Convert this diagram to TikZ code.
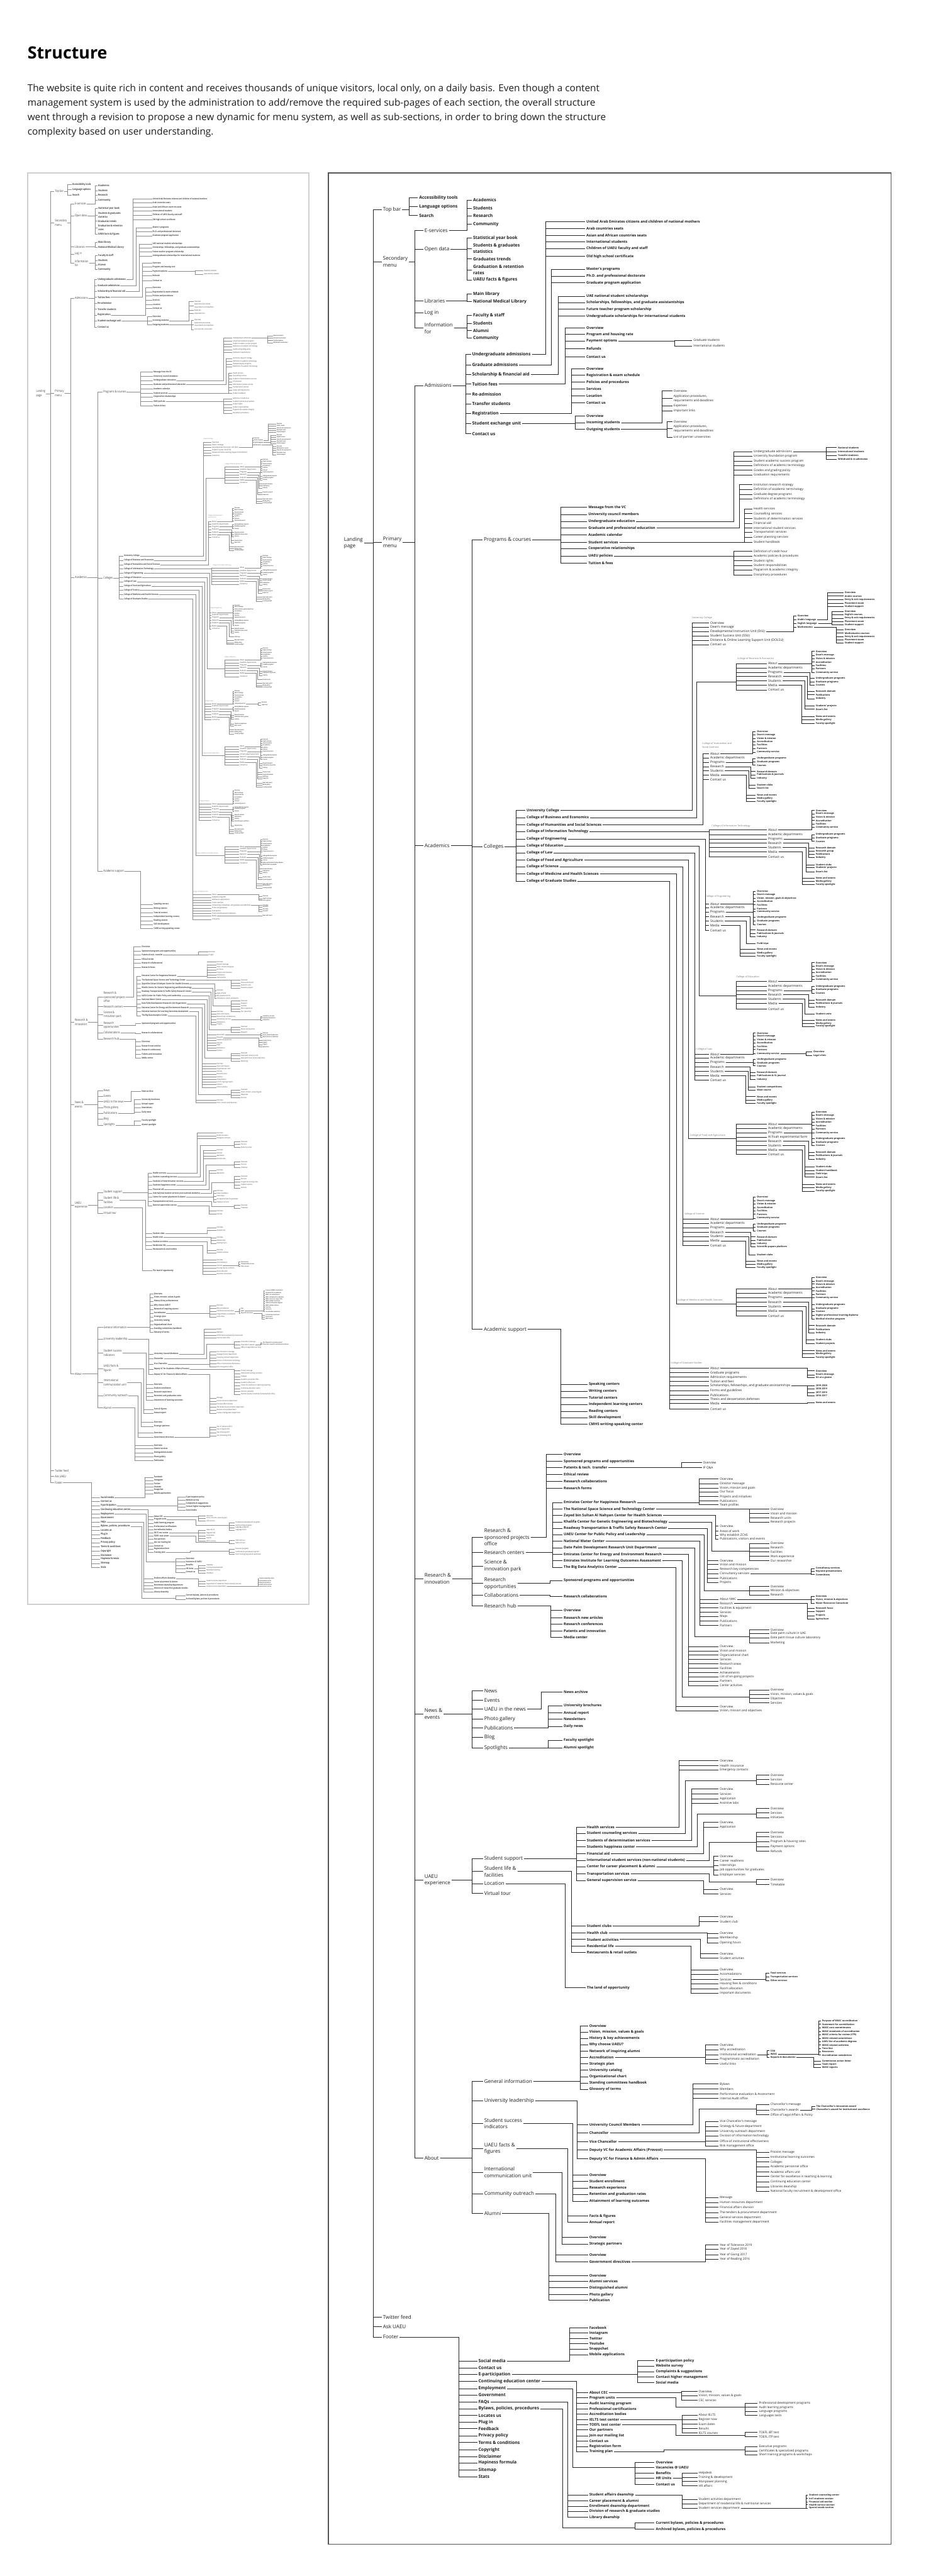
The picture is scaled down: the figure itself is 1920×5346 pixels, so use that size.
\documentclass[tikz,border=0pt]{standalone}
\usepackage{fontspec}
\setmainfont{Open Sans}
\usetikzlibrary{positioning}
\definecolor{SiteInk}{HTML}{1C1C1C}
\definecolor{SiteLine}{HTML}{262626}
\definecolor{SiteFrame}{HTML}{555555}
\definecolor{SiteThumb}{HTML}{D0D0D0}

\tikzset{
  lbl/.style={anchor=west,inner xsep=2.5pt,inner ysep=0.5pt,align=left,text=SiteInk},
  hd/.style={lbl,font=\fontsize{10.5}{14}\selectfont},
  s1/.style={lbl,font=\fontsize{9}{13}\selectfont\bfseries},
  s2/.style={lbl,font=\fontsize{7.5}{10}\selectfont\bfseries},
  s3/.style={lbl,font=\fontsize{6.3}{9.5}\selectfont},
  blk/.style={lbl,font=\fontsize{6.6}{8}\selectfont},
  s4/.style={lbl,font=\fontsize{4.8}{6}\selectfont\bfseries},
  tag/.style={lbl,font=\fontsize{5}{7.5}\selectfont,text=black!55},
  link/.style={draw=SiteLine,line width=1.1pt},
  heading/.style={anchor=base west,inner sep=0pt,font=\fontsize{35}{40}\selectfont\bfseries,text=black},
  intro/.style={anchor=north west,inner sep=0pt,align=left,font=\fontsize{20}{30}\selectfont,text=SiteInk},
  newframe/.style={draw=SiteFrame,line width=2pt},
  oldframe/.style={draw=SiteThumb,line width=2.5pt}
}

% children of #1: name prefix #2, bus at x=#3, labels at x=#4, style #5, list y/text
\newcommand\kids[6]{%
  \foreach \yy/\lab [count=\kk] in {#6}{%
    \node[#5] (#2\kk) at (#4,\yy) {\lab};
    \draw[link] (#1.east) -| (#3,\yy) |- (#2\kk.west);
  }}
% same, with an elbow: down to (#3,#4), then over to the bus at x=#5
\newcommand\kidsj[8]{%
  \foreach \yy/\lab [count=\kk] in {#8}{%
    \node[#7] (#2\kk) at (#6,\yy) {\lab};
    \draw[link] (#1.east) -| (#3,#4) -| (#5,\yy) |- (#2\kk.west);
  }}

\newcommand\sitetree{%
\node[hd] (land) at (711,1127) {Landing\\page};
\kids{land}{m}{774}{792}{hd}{435/Top bar, 543/{Secondary\\menu}, 1125/{Primary\\menu}, 4809/Twitter feed, 4828/Ask UAEU, 4850/Footer}
% top bar, secondary menu
\kids{m1}{tb}{849}{867}{s1}{411/Accessibility tools, 429/Language options, 447/Search}
\kids{m2}{sm}{861}{878}{hd}{478/E-services, 518/Open data, 625/Libraries, 649/Log in, 681/{Information\\for}}
\kids{sm1}{es}{969}{979}{s1}{415/Academics, 432/Students, 448/Research, 465/Community}
\kids{sm2}{od}{969}{979}{s1}{494/Statistical year book, 516/{Students \& graduates\\statistics}, 537/Graduates trends, 560/{Graduation \& retention\\rates}, 581/UAEU facts \& figures}
\kids{sm3}{lb}{969}{979}{s1}{610/Main library, 626/National Medical Library}
\kids{sm5}{inf}{969}{979}{s1}{655/Faculty \& staff, 671/Students, 686/Alumni, 702/Community}
% primary menu
\kids{m3}{pm}{861}{878}{hd}{800/Admissions, 1755/Academics, 3276/{Research \&\\innovation}, 3557/{News \&\\events}, 3902/{UAEU\\experience}, 4478/About}
% admissions
\kids{pm1}{ad}{966}{977}{s1}{736/Undergraduate admissions, 757/Graduate admissions, 777/Scholarship \& financial aid, 797/Tuition fees, 818/Re-admission, 838/Transfer students, 858/Registration, 879/Student exchange unit, 900/Contact us}
\kids{ad1}{ua}{1132}{1214}{s2}{460/United Arab Emirates citizens and children of national mothers, 474/Arab countries seats, 489/Asian and African countries seats, 502/International students, 516/Children of UAEU faculty and staff, 532/Old high school certificate}
\kids{ad2}{ga}{1144}{1214}{s2}{559/Master's programs, 573/Ph.D. and professional doctorate, 587/Graduate program application}
\kids{ad3}{sh}{1158}{1214}{s2}{615/UAE national student scholarships, 628/{Scholarships, fellowships, and graduate assistantships}, 642/Future teacher program scholarship, 656/Undergraduate scholarships for international students}
\kids{ad4}{tf}{1172}{1214}{s2}{681/Overview, 694/Program and housing rate, 708/Payment options, 724/Refunds, 740/Contact us}
\kids{tf3}{po}{1400}{1436}{s3}{706/Graduate students, 718/International students}
\kids{ad7}{rg}{1186}{1214}{s2}{765/Overview, 779/Registration \& exam schedule, 793/Policies and procedures, 807/Services, 822/Location, 836/Contact us}
\kids{ad8}{se}{1193}{1214}{s2}{863/Overview, 877/Incoming students, 891/Outgoing students}
\kids{se2}{inc}{1374}{1395}{s3}{811/Overview, 827/{Application procedures,\\requirements and deadlines}, 842/Expenses, 853/Important links}
\kids{se3}{out}{1384}{1395}{s3}{875/Overview, 890/{Application procedures,\\requirements and deadlines}, 907/List of partner universities}
% academics
\kids{pm2}{ac}{980}{1001}{hd}{1121/Programs \& courses, 1757/Colleges, 2759/Academic support}
\kids{ac1}{pc}{1163}{1218}{s2}{1053/Message from the VC, 1068/University council members, 1082/Undergraduate education, 1096/Graduate and professional education, 1110/Academic calendar, 1125/Student services, 1138/Cooperative relationships, 1154/UAEU policies, 1169/Tuition \& fees}
\kids{pc3}{ue}{1522}{1561}{s3}{937/Undergraduate admissions, 947/University foundation program, 957/Student academic success program, 966/Definitions of academic terminology, 976/Grades and grading policy, 986/Graduation requirements}
\kids{ue1}{uea}{1714}{1736}{s4}{929/National students, 937/International students, 945/Transfer students, 953/Withdrawl \& re-admission}
\kids{pc4}{gp}{1534}{1561}{s3}{1006/Institution research strategy, 1016/Definition of academic terminology, 1026/Graduate degree programs, 1035/Definitions of academic terminology}
\kids{pc6}{ss}{1545}{1561}{s3}{1056/Health services, 1066/Counselling services, 1076/Students of determination services, 1086/Financial aid, 1096/International student services, 1105/Transportation services, 1115/Career planning services, 1125/Student handbook}
\kids{pc8}{up}{1522}{1561}{s3}{1144/Definition of credit hour, 1154/Academic policies \& procedures, 1164/Student rights, 1174/Student responsibilities, 1183/Plagiarism \& academic integrity, 1193/Disciplinary procedures}
\kids{ac2}{co}{1071}{1090}{s2}{1682/University College, 1697/College of Business and Economics, 1712/College of Humanities and Social Sciences, 1726/College of Information Technology, 1741/College of Engineering, 1756/College of Education, 1770/College of Law, 1785/College of Food and Agriculture, 1799/College of Science, 1814/College of Medicine and Health Sciences, 1829/College of Graduate Studies}
% university college
\node[tag] (uct) at (1433,1282) {University College};
\kids{co1}{uc}{1436}{1471}{blk}{1293/Overview, 1302/Dean's message, 1311/Developmental Instruction Unit (DIU), 1320/Student Success Unit (SSU), 1329/Distance \& Online Learning Support Unit (DOLSU), 1338/Contact us}
\kids{uc3}{diu}{1647}{1652}{s4}{1278/Overview, 1286/Arabic language, 1294/English language, 1302/Mathematics}
\kids{diu2}{ar}{1717}{1750}{s4}{1230/Overview, 1237/Arabic courses, 1245/Entry \& exit requirements, 1252/Placement exam, 1259/Student support}
\kids{diu3}{eng}{1726}{1750}{s4}{1269/Overview, 1276/English courses, 1283/Entry \& exit requirements, 1290/Placement exam, 1297/Student support}
\kids{diu4}{ma}{1735}{1750}{s4}{1307/Overview, 1314/Mathematics courses, 1321/Entry \& exit requirements, 1328/Placement exam, 1335/Student support}
% business
\node[tag] (bet) at (1527,1367) {College of Business \& Economics};
\kidsj{co2}{be}{1446}{1415}{1527}{1591}{blk}{1377/About, 1386/Academic departments, 1396/Programs, 1404/Research, 1413/Students, 1422/Media, 1432/Contact us}
\kids{be1}{bea}{1684}{1690}{s4}{1352/Overview, 1360/Dean's message, 1367/Vision \& mission, 1374/Accreditation, 1381/Facilities, 1388/Partners, 1396/Community service}
\kids{be3}{bep}{1680}{1690}{s4}{1408/Undergraduate programs, 1415/Graduate programs, 1422/Courses}
\kids{be4}{ber}{1675}{1690}{s4}{1435/Research domain, 1442/Publications, 1450/Industry}
\kids{be5}{bes}{1670}{1690}{s4}{1465/Students' projects, 1472/Dean's list}
\kids{be6}{bem}{1663}{1690}{s4}{1487/News and events, 1494/Media gallery, 1501/Faculty spotlight}
% humanities
\node[tag] (hut) at (1454,1547) {College of Humanities and\\Social Sciences};
\kids{co3}{hu}{1458}{1471}{blk}{1564/About, 1573/Academic departments, 1582/Programs, 1591/Research, 1600/Students, 1609/Media, 1618/Contact us}
\kids{hu1}{hua}{1562}{1568}{s4}{1518/Overview, 1525/Dean's message, 1533/Vision \& mission, 1539/Accreditation, 1546/Facilities, 1554/Partners, 1561/Community service}
\kids{hu3}{hup}{1562}{1568}{s4}{1574/Undergraduate programs, 1581/Graduate programs, 1588/Courses}
\kids{hu4}{hur}{1558}{1568}{s4}{1601/Research domain, 1608/Publications \& journals, 1615/Industry}
\kids{hu5}{hus}{1554}{1568}{s4}{1629/Student clubs, 1636/Dean's list}
\kids{hu6}{hum}{1548}{1568}{s4}{1650/News and events, 1657/Media gallery, 1663/Faculty spotlight}
% information technology
\node[tag] (itt) at (1474,1714) {College of Information Technology};
\kids{co4}{it}{1472}{1591}{blk}{1722/About, 1732/Academic departments, 1741/Programs, 1750/Research, 1759/Students, 1768/Media, 1778/Contact us}
\kids{it1}{ita}{1684}{1690}{s4}{1682/Overview, 1689/Dean's message, 1696/Vision \& mission, 1703/Accreditation, 1710/Facilities, 1717/Community service}
\kids{it3}{itp}{1684}{1690}{s4}{1732/Undergraduate programs, 1739/Graduate programs, 1746/Courses}
\kids{it4}{itr}{1678}{1690}{s4}{1760/Research domain, 1766/Research group, 1773/Publications, 1780/Industry}
\kids{it5}{its}{1672}{1690}{s4}{1795/Student clubs, 1801/Students' projects, 1809/Dean's list}
\kids{it6}{itm}{1665}{1690}{s4}{1822/News and events, 1829/Media gallery, 1836/Faculty spotlight}
% engineering
\node[tag] (egt) at (1461,1860) {College of Engineering};
\kids{co5}{eg}{1463}{1471}{blk}{1876/About, 1884/Academic departments, 1893/Programs, 1902/Research, 1911/Students, 1921/Media, 1931/Contact us}
\kids{eg1}{ega}{1563}{1568}{s4}{1850/Overview, 1857/Dean's message, 1864/{Vision, mission, goals \& objectives}, 1871/Accreditation, 1878/Facilities, 1886/Partners, 1892/Community service}
\kids{eg3}{egp}{1563}{1568}{s4}{1904/Undergraduate programs, 1911/Graduate programs, 1919/Courses}
\kids{eg4}{egr}{1556}{1568}{s4}{1930/Research domain, 1937/Publications \& journals, 1944/Industry}
\kids{eg5}{egs}{1548}{1568}{s4}{1958/Field trips}
\kids{eg6}{egm}{1536}{1568}{s4}{1970/News and events, 1978/Media gallery, 1984/Faculty spotlight}
% education
\node[tag] (edt) at (1525,2027) {College of Education};
\kidsj{co6}{ed}{1451}{2067}{1527}{1591}{blk}{2037/About, 2047/Academic departments, 2056/Programs, 2064/Research, 2073/Students, 2082/Media, 2094/Contact us}
\kids{ed1}{eda}{1684}{1690}{s4}{1998/Overview, 2005/Dean's message, 2012/Vision \& mission, 2018/Accreditation, 2026/Facilities, 2033/Community service}
\kids{ed3}{edp}{1684}{1690}{s4}{2047/Undergraduate programs, 2054/Graduate programs, 2061/Courses}
\kids{ed4}{edr}{1678}{1690}{s4}{2076/Research domain, 2082/Publications \& journals, 2090/Industry}
\kids{ed5}{eds}{1670}{1690}{s4}{2104/Student units}
\kids{ed6}{edm}{1664}{1690}{s4}{2117/News and events, 2124/Media gallery, 2130/Faculty spotlight}
% law
\node[tag] (lwt) at (1441,2178) {College of Law};
\kids{co7}{lw}{1442}{1471}{blk}{2188/About, 2196/Academic departments, 2205/Programs, 2214/Research, 2223/Students, 2232/Media, 2242/Contact us}
\kids{lw1}{lwa}{1563}{1568}{s4}{2144/Overview, 2150/Dean's message, 2158/Vision \& mission, 2164/Accreditation, 2172/Facilities, 2178/Partners, 2187/Community service}
\kids{lwa7}{lwc}{1672}{1685}{s4}{2183/Overview, 2191/Legal clinic}
\kids{lw3}{lwp}{1563}{1568}{s4}{2198/Undergraduate programs, 2206/Graduate programs, 2212/Courses}
\kids{lw4}{lwr}{1556}{1568}{s4}{2226/Research domain, 2232/Publications \& SL journal, 2240/Industry}
\kids{lw5}{lws}{1552}{1568}{s4}{2256/Student competitions, 2262/Moot courts}
\kids{lw6}{lwm}{1547}{1568}{s4}{2276/News and events, 2283/Media gallery, 2290/Faculty spotlight}
% food and agriculture
\node[tag] (fat) at (1429,2356) {College of Food and Agriculture};
\kidsj{co8}{fa}{1429}{2363}{1527}{1591}{blk}{2333/About, 2342/Academic departments, 2351/Programs, 2360/Al Foah experimental farm, 2368/Research, 2377/Students, 2387/Media, 2396/Contact us}
\kids{fa1}{faa}{1684}{1690}{s4}{2308/Overview, 2315/Dean's message, 2322/Vision \& mission, 2329/Accreditation, 2336/Facilities, 2343/Partners, 2351/Community service}
\kids{fa3}{fap}{1684}{1690}{s4}{2363/Undergraduate programs, 2371/Graduate programs, 2377/Courses}
\kids{fa5}{far}{1678}{1690}{s4}{2391/Research domain, 2398/Publications \& journals, 2406/Industry}
\kids{fa6}{fas}{1670}{1690}{s4}{2421/Student clubs, 2429/Student handbook, 2436/Field trips, 2443/Dean's list}
\kids{fa7}{fam}{1664}{1690}{s4}{2458/News and events, 2465/Media gallery, 2472/Faculty spotlight}
% science
\node[tag] (sit) at (1417,2520) {College of Science};
\kids{co9}{si}{1416}{1471}{blk}{2530/About, 2539/Academic departments, 2548/Programs, 2557/Research, 2566/Students, 2575/Media, 2585/Contact us}
\kids{si1}{sia}{1563}{1568}{s4}{2484/Overview, 2492/Dean's message, 2498/Vision \& mission, 2506/Accreditation, 2513/Facilities, 2520/Partners, 2528/Community service}
\kids{si3}{sip}{1563}{1568}{s4}{2541/Undergraduate programs, 2547/Graduate programs, 2555/Courses}
\kids{si4}{sir}{1558}{1568}{s4}{2567/Research domain, 2574/Publications, 2581/Industry, 2588/Scientific papers platform}
\kids{si5}{sis}{1554}{1568}{s4}{2604/Student clubs}
\kids{si6}{sim}{1547}{1568}{s4}{2617/News and events, 2624/Media gallery, 2630/Faculty spotlight}
% medicine
\node[tag] (mdt) at (1403,2699) {College of Medicine and Health Sciences};
\kidsj{co10}{md}{1403}{2706}{1527}{1591}{blk}{2675/About, 2684/Academic departments, 2693/Programs, 2702/Research, 2712/Students, 2721/Media, 2731/Contact us}
\kids{md1}{mda}{1684}{1690}{s4}{2651/Overview, 2659/Dean's message, 2665/Vision \& mission, 2672/Accreditation, 2679/Facilities, 2686/Partners, 2693/Community service}
\kids{md3}{mdp}{1684}{1690}{s4}{2708/Undergraduate programs, 2716/Graduate programs, 2722/Courses, 2730/Higher professional training diploma, 2737/Medical elective program}
\kids{md4}{mdr}{1678}{1690}{s4}{2751/Research domain, 2759/Publications, 2766/Industry}
\kids{md5}{mds}{1672}{1690}{s4}{2780/Student clubs, 2788/Student projects}
\kids{md6}{mdm}{1664}{1690}{s4}{2803/News and events, 2809/Media gallery, 2817/Faculty spotlight}
% graduate studies
\node[tag] (gst) at (1389,2829) {College of Graduate Studies};
\kids{co11}{gs}{1389}{1471}{blk}{2839/About, 2849/Graduate programs, 2858/Admission requirements, 2867/Tuition and fees, 2876/{Scholarships, fellowships, and graduate assistantships}, 2886/Forms and guidelines, 2895/Publications, 2904/Thesis and dessertation defenses, 2913/Media, 2924/Contact us}
\kids{gs1}{gsa}{1675}{1690}{s4}{2845/Overview, 2853/Dean's message, 2859/GS at a glance}
\kids{gs5}{gsy}{1675}{1690}{s4}{2876/2019-2020, 2882/2018-2019, 2890/2017-2018, 2897/2016-2017}
\kids{gs9}{gsm}{1675}{1690}{s4}{2911/News and events}
\kids{ac3}{as}{1163}{1219}{s2}{2873/Speaking centers, 2887/Writing centers, 2901/Tutorial centers, 2915/Independent learning centers, 2929/Reading centers, 2942/Skill development, 2956/CMHS writing-speaking center}
% research & innovation
\kids{pm3}{ri}{980}{1002}{hd}{3190/{Research \&\\sponsored projects\\office}, 3222/Research centers, 3250/{Science \&\\innovation park}, 3286/{Research\\opportunities}, 3311/Collaborations, 3333/Research hub}
\kids{ri1}{rs}{1133}{1167}{s2}{3018/Overview, 3033/Sponsored programs and opportunities, 3046/Patents \& tech. transfer, 3060/Ethical review, 3074/Research collaborations, 3088/Research forms}
\kids{rs3}{pt}{1414}{1456}{s3}{3035/Overview, 3046/IP Q\&A}
\kids{ri2}{rc}{1147}{1167}{s2}{3118/Emirates Center for Happiness Research, 3132/The National Space Science and Technology Center, 3145/Zayed bin Sultan Al Nahyan Center for Health Sciences, 3159/Khalifa Center for Genetic Engineering and Biotechnology, 3172/Roadway Transportation \& Traffic Safety Research Center, 3185/UAEU Center for Public Policy and Leadership, 3198/National Water Center, 3212/Date Palm Development Research Unit Department, 3226/Emirates Center for Energy and Environment Research, 3239/Emirates Institute for Learning Outcomes Assessment, 3253/The Big Data Analytics Center}
\kids{rc1}{hp}{1451}{1491}{s3}{3069/Overview, 3079/Director message, 3088/{Vision, mission and goals}, 3096/Our focus, 3106/Projects and initiatives, 3115/Publications, 3123/Team profiles}
\kids{rc2}{nss}{1555}{1596}{s3}{3132/Overview, 3141/Vision and mission, 3150/Research units, 3159/Research projects}
\kids{rc3}{zc}{1484}{1491}{s3}{3167/Overview, 3177/Areas of work, 3186/Why establish ZCHS, 3194/{Publications, visitors and events}}
\kidsj{rc4}{kh}{1477}{3219}{1555}{1596}{s3}{3203/Overview, 3212/Research, 3221/Facilities, 3230/Work experience, 3239/Our researcher}
\kids{rc5}{rw}{1468}{1491}{s3}{3239/Overview, 3247/Vision and mission, 3257/Research key competencies, 3266/Consultancy services, 3275/Publications, 3284/Projects}
\kids{rw4}{cns}{1683}{1690}{s4}{3255/Consultancy services, 3261/Keynote presentations, 3268/Committees}
\kidsj{rc6}{pp}{1461}{3301}{1555}{1596}{s3}{3292/Overview, 3301/Mission \& objectives, 3310/Research}
\kids{rc7}{nw}{1452}{1491}{s3}{3319/About NWC, 3328/Research, 3337/Facilities \& equipment, 3346/Services, 3355/Maps, 3364/Publications, 3373/Partners}
\kids{nw1}{nwa}{1683}{1690}{s4}{3313/Overview, 3320/{Vision, mission \& objectives}, 3327/Water Resources Consotium}
\kids{nw2}{nwr}{1675}{1690}{s4}{3338/Research focus, 3345/Support, 3353/Projects, 3360/Agriculture}
\kidsj{rc8}{dp}{1441}{3397}{1555}{1596}{s3}{3382/Overview, 3390/Date palm culture in UAE, 3399/Date palm tissue culture laboratory, 3409/Marketing}
\kids{rc9}{ee}{1429}{1491}{s3}{3417/Overview, 3426/Vision and mission, 3435/Organizational chart, 3444/Services, 3453/Research areas, 3462/Facilities, 3471/Achievements, 3480/List of on-going projects, 3489/Partners, 3498/Center activities}
\kidsj{rc10}{lo}{1415}{3522}{1555}{1596}{s3}{3507/Overview, 3516/{Vision, mission, values \& goals}, 3525/Objectives, 3534/Services}
\kids{rc11}{bd}{1402}{1491}{s3}{3542/Overview, 3551/{Vision, mission and objectives}}
\kids{ri4}{ro}{1141}{1167}{s2}{3280/Sponsored programs and opportunities}
\kids{ri5}{cl}{1141}{1167}{s2}{3313/Research collaborations}
\kids{ri6}{rh}{1143}{1167}{s2}{3342/Overview, 3357/Research new articles, 3370/Research conferences, 3385/Patents and innovation, 3398/Media center}
% news & events
\kids{pm4}{ne}{980}{1002}{hd}{3509/News, 3529/Events, 3547/UAEU in the news, 3567/Photo gallery, 3586/Publications, 3606/Blog, 3627/Spotlights}
\kids{ne3}{na}{1123}{1167}{s2}{3511/News archive}
\kids{ne5}{pu}{1137}{1167}{s2}{3540/University brochures, 3555/Annual report, 3568/Newsletters, 3583/Daily news}
\kids{ne7}{sp}{1137}{1167}{s2}{3612/Faculty spotlight, 3627/Alumni spotlight}
% uaeu experience
\kids{pm5}{ux}{980}{1002}{hd}{3857/Student support, 3884/{Student life \&\\facilities}, 3909/Location, 3929/Virtual tour}
\kids{ux1}{su}{1196}{1215}{s2}{3792/Health services, 3805/Student counseling services, 3819/Students of determination services, 3833/Students happiness center, 3847/Financial aid, 3861/International student services (non-national students), 3874/Center for career placement \& alumni, 3889/Transportation services, 3903/General supervision service}
\kids{su1}{hs}{1409}{1491}{s3}{3654/Overview, 3664/Health insurance, 3673/Emergency contacts}
\kidsj{su2}{cs}{1422}{3696}{1569}{1596}{s3}{3684/Overview, 3693/Services, 3703/Resource center}
\kids{su3}{sd}{1435}{1491}{s3}{3713/Overview, 3723/Services, 3733/Application, 3742/Assistive labs}
\kidsj{su4}{hc}{1447}{3764}{1569}{1596}{s3}{3753/Overview, 3762/Services, 3772/Initiatives}
\kids{su5}{fi}{1460}{1491}{s3}{3782/Overview, 3792/Application}
\kidsj{su6}{is}{1471}{3824}{1569}{1596}{s3}{3803/Overview, 3812/Services, 3822/Program \& housing rates, 3832/Payment options, 3842/Refunds}
\kids{su7}{cp}{1480}{1491}{s3}{3852/Overview, 3861/Career readiness, 3871/Internships, 3881/Job opportunities for graduates, 3891/Employer services}
\kidsj{su8}{tr}{1471}{3906}{1569}{1596}{s3}{3901/Overview, 3911/Timetable}
\kids{su9}{gv}{1460}{1491}{s3}{3921/Overview, 3931/Services}
\kids{ux2}{sl}{1185}{1215}{s2}{3997/Student clubs, 4011/Health club, 4025/Student activities, 4039/Residential life, 4052/Restaurants \& retail outlets}
\kids{sl1}{sb}{1451}{1491}{s3}{3978/Overview, 3988/Student club}
\kids{sl2}{hl}{1468}{1491}{s3}{4012/Overview, 4022/Membership, 4032/Opening hours}
\kids{sl3}{sa}{1453}{1491}{s3}{4055/Overview, 4064/Student activities}
\kids{sl4}{rl}{1434}{1491}{s3}{4088/Overview, 4097/Accomodations, 4108/Services, 4117/Housing fees \& conditions, 4127/Room allocation, 4137/Important documents}
\kids{rl3}{rv}{1589}{1596}{s4}{4095/Food services, 4103/Transportation services, 4110/Other services}
\kids{ux3}{ld}{1173}{1215}{s2}{4125/The land of opportunity}
% about
\kids{pm6}{ab}{980}{1002}{hd}{4319/General information, 4360/University leadership, 4407/{Student success\\indicators}, 4459/{UAEU facts \&\\figures}, 4508/{International\\communication unit}, 4553/Community outreach, 4594/Alumni}
\kids{ab1}{gi}{1204}{1220}{s2}{4204/Overview, 4217/{Vision, mission, values \& goals}, 4230/History \& key achievements, 4243/Why choose UAEU?, 4257/Network of inspiring alumni, 4270/Accreditation, 4283/Strategic plan, 4296/University catalog, 4310/Organizational chart, 4323/Standing committees handbook, 4336/Glossory of terms}
\kids{gi6}{acr}{1463}{1491}{s3}{4244/Overview, 4254/Why accreditation, 4264/Institutional accreditation, 4274/Programmatic accreditation, 4283/Useful links}
\kids{acr3}{ia}{1591}{1596}{s4}{4256/CAA, 4263/WASC, 4270/Reports \& documents}
\kids{ia2}{wa}{1698}{1703}{s4}{4194/Purpose of WASC accreditation, 4201/Statement for accreditation, 4208/WASC core commitments, 4216/WASC standards of accreditation, 4223/WASC criteria for review (CFR), 4230/WASC-related committees, 4237/UAEU list of academic degrees, 4244/WASC-related activities, 4251/Time line, 4258/Resources, 4265/Accreditation newsletters}
\kids{ia3}{rp}{1688}{1703}{s4}{4277/Commission action letter, 4284/Team report, 4291/WASC reports}
\kids{ab2}{ul}{1198}{1220}{s2}{4410/University Council Members, 4426/Chancellor, 4444/Vice Chancellor, 4462/Deputy VC for Academic Affairs (Provost), 4480/Deputy VC for Finance \& Admin Affairs}
\kids{ul1}{ucm}{1438}{1491}{s3}{4325/Bylaws, 4335/Members, 4346/Performance evaluation \& Assessment, 4355/Internal Audit office}
\kidsj{ul2}{ch}{1450}{4377}{1569}{1596}{s3}{4368/Chancellor's message, 4379/Chancellor's awards, 4389/Office of Legal Affairs \& Policy}
\kids{ch2}{cw}{1684}{1691}{s4}{4371/The Chancellor's innovation award, 4377/Chancellor's award for institutional excellence}
\kids{ul3}{vc}{1463}{1491}{s3}{4403/Vice Chancellor's message, 4413/Strategy \& future department, 4423/University outreach department, 4433/Division of information technology, 4443/Office of institutional effectiveness, 4454/Risk management office}
\kids{ul4}{pv}{1569}{1596}{s3}{4467/Provost message, 4477/Institutional learning outcomes, 4487/Colleges, 4497/Academic personnel office, 4507/Academic affairs unit, 4517/Center for excellence in teaching \& learning, 4528/Continuing education center, 4538/Libraries deanship, 4548/National faculty recruitment \& development office}
\kids{ul5}{fn}{1463}{1491}{s3}{4561/Message, 4571/Human resources department, 4581/Financial affairs division, 4592/The tenders \& procurement department, 4602/General services department, 4612/Facilities management department}
\kids{ab3}{ssi}{1188}{1220}{s2}{4514/Overview, 4527/Student enrollment, 4541/Research experience, 4554/Retention and graduation rates, 4568/Attainment of learning outcomes}
\kids{ab4}{ff}{1178}{1220}{s2}{4599/Facts \& figures, 4612/Annual report}
\kids{ab5}{icu}{1166}{1220}{s2}{4643/Overview, 4657/Strategic partners}
\kids{ab6}{cmo}{1153}{1220}{s2}{4680/Overview, 4694/Government directives}
\kids{cmo2}{yr}{1463}{1491}{s3}{4659/Year of Tolerance 2019, 4668/Year of Zayed 2018, 4679/Year of Giving 2017, 4689/Year of Reading 2016}
\kids{ab7}{al}{1139}{1220}{s2}{4722/Overview, 4734/Alumni services, 4748/Distinguished alumni, 4762/Photo gallery, 4774/Publication}
% footer
\kids{m6}{ft}{952}{990}{s1}{4900/Social media, 4914/Contact us, 4928/E-participation, 4942/Continuing education center, 4957/Employment, 4970/Government, 4985/FAQs, 4999/{Bylaws, policies, procedures}, 5013/Locates us, 5027/Plug in, 5040/Feedback, 5055/Privacy policy, 5069/Terms \& conditions, 5084/Copyright, 5098/Disclaimer, 5111/Hapiness formula, 5126/Sitemap, 5140/Stats}
\kids{ft1}{so}{1182}{1220}{s2}{4831/Facebook, 4842/Instagram, 4853/Twitter, 4864/Youtube, 4875/Snappchat, 4887/Mobile applications}
\kids{ft3}{ep}{1323}{1358}{s2}{4899/E-participation policy, 4910/Website survey, 4922/Complaints \& suggestions, 4933/Contact higher management, 4944/Social media}
\kids{ft4}{ce}{1196}{1220}{s2}{4965/About CEC, 4976/Program units, 4988/Audit learning program, 4999/Professional certifications, 5010/Accreditation bodies, 5022/IELTS test center, 5032/TOEFL test center, 5043/Our partners, 5055/Join our mailing list, 5066/Contact us, 5077/Registration form, 5088/Training plan}
\kids{ce1}{cc}{1414}{1447}{s3}{4963/Overview, 4972/{Vision, mission, values \& goals}, 4981/CEC services}
\kidsj{ce2}{pg}{1402}{4995}{1546}{1572}{s3}{4987/Professional development programs, 4996/Audit learning programs, 5004/Language programs, 5013/Languages tests}
\kids{ce6}{ie}{1415}{1447}{s3}{5012/About IELTS, 5022/Register now, 5031/Exam dates, 5040/Results, 5049/IELTS courses}
\kidsj{ce7}{to}{1402}{5054}{1546}{1572}{s3}{5048/TOEFL iBT test, 5057/TOEFL ITP test}
\kidsj{ce12}{tp}{1378}{5084}{1546}{1572}{s3}{5077/Executive programs, 5087/Certificates \& specialized programs, 5095/Short training programs \& workshops}
\kidsj{ft5}{em}{1188}{5121}{1317}{1358}{s2}{5110/Overview, 5121/Vacancies @ UAEU, 5132/Benefits, 5143/HR Units, 5156/Contact us}
\kids{em4}{hr}{1415}{1447}{s3}{5132/Helpdesk, 5141/Training \& development, 5150/Manpower planning, 5159/HR affairs}
\kids{ft7}{fq}{1178}{1220}{s2}{5178/Student affairs deanship, 5190/Career placement \& alumni, 5201/Enrollment deanship department, 5212/Division of research \& graduate studies, 5224/Library deanship}
\kids{fq1}{sad}{1415}{1447}{s3}{5187/Student activities department, 5196/Department of residential life \& nutritional services, 5205/Student services department}
\kids{sad3}{ssd}{1672}{1676}{s4}{5178/Student counseling center, 5185/Int'l students section, 5192/Financial aid section, 5198/Health service section, 5205/Special needs section}
\kidsj{ft8}{bl}{1168}{5246}{1317}{1358}{s2}{5236/{Current bylaws, policies \& procedures}, 5249/{Archived bylaws, policies \& procedures}}
}

\begin{document}
\begin{tikzpicture}[x=1pt,y=-1pt]
\useasboundingbox (0,0) rectangle (1920,5346);
\node[heading] (title) at (57,122) {Structure};
\node[intro] (summary) at (57,174) {The website is quite rich in content and receives thousands of unique visitors, local only, on a daily basis. Even though a content\\
management system is used by the administration to add/remove the required sub-pages of each section, the overall structure\\
went through a revision to propose a new dynamic for menu system, as well as sub-sections, in order to bring down the structure\\
complexity based on user understanding.};

% current structure, as a thumbnail
\draw[oldframe] (57,359) rectangle (641,3329);
\begin{scope}[name prefix=old-,shift={(-267.3,132.9)},xscale=0.48,yscale=0.607,transform shape,
    link/.style={draw=black!45,line width=0.45pt},lbl/.append style={text=black!75}]
  \sitetree
\end{scope}

% proposed structure
\draw[newframe] (681,359) rectangle (1849,5280);
\sitetree
\end{tikzpicture}
\end{document}
